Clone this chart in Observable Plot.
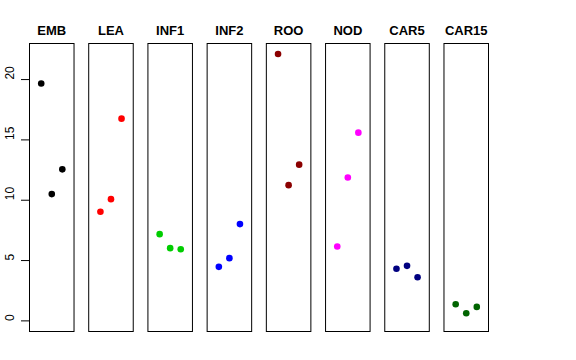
<!DOCTYPE html>
<html>
<head>
<meta charset="utf-8">
<script src="https://cdn.jsdelivr.net/npm/d3@7"></script>
<script src="https://cdn.jsdelivr.net/npm/@observablehq/plot@0.6"></script>
<style>
  html, body { margin: 0; padding: 0; background: #fff; }
  svg { font-family: "Liberation Sans", Arial, Helvetica, sans-serif; }
</style>
</head>
<body>
<div id="chart"></div>
<script>
const panels = ["EMB", "LEA", "INF1", "INF2", "ROO", "NOD", "CAR5", "CAR15"];
const colors = ["#000000", "#FF0000", "#00CD00", "#0000FF", "#8B0000", "#FF00FF", "#000080", "#006400"];
const positions = [1, 2, 3];
const EMB = [19.67, 10.51, 12.56];
const LEA = [9.05, 10.09, 16.76];
const INF1 = [7.19, 6.03, 5.94];
const INF2 = [4.48, 5.20, 8.02];
const ROO = [22.12, 11.25, 12.95];
const NOD = [6.17, 11.89, 15.60];
const CAR5 = [4.32, 4.56, 3.62];
const CAR15 = [1.38, 0.63, 1.16];
const yTicks = [0, 5, 10, 15, 20];

const series = {EMB, LEA, INF1, INF2, ROO, NOD, CAR5, CAR15};
const data = panels.flatMap(p => series[p].map((v, i) => ({panel: p, pos: positions[i], value: v})));

const chart = Plot.plot({
  width: 576,
  height: 360,
  marginTop: 43,
  marginBottom: 29,
  marginLeft: 29,
  marginRight: 88,
  style: {fontFamily: "Liberation Sans, Arial, Helvetica, sans-serif", background: "#fff"},
  fx: {domain: panels, paddingInner: 0.248, paddingOuter: 0, round: false, axis: null, label: null},
  x: {domain: [-0.11, 4.11], axis: null},
  y: {domain: [-0.88, 22.99], axis: null},
  color: {domain: panels, range: colors},
  marks: [
    Plot.frame({stroke: "#000", strokeWidth: 1}),
    Plot.axisY({ticks: yTicks, tickSize: 8, tickFormat: () => "", label: null, stroke: "#000"}),
    Plot.text(yTicks, {fx: () => "EMB", y: d => d, text: d => String(d), frameAnchor: "left", dx: -19, rotate: -90, fontSize: 12, fill: "#000"}),
    Plot.text(panels, {fx: d => d, text: d => d, frameAnchor: "top", dy: -9, lineAnchor: "bottom", fontWeight: "bold", fontSize: 13, fill: "#000"}),
    Plot.dot(data, {fx: "panel", x: "pos", y: "value", fill: "panel", r: 3.3, stroke: null})
  ]
});
document.getElementById("chart").appendChild(chart);
</script>
</body>
</html>
